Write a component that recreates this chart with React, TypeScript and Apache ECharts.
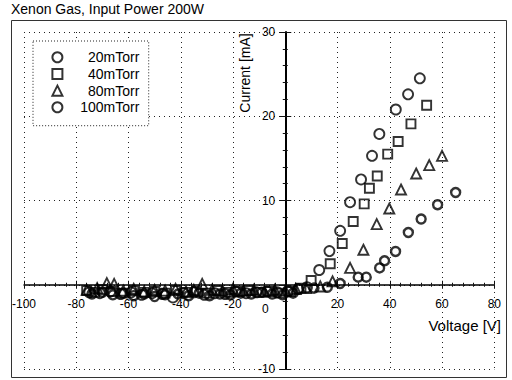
import React, { useEffect, useRef } from 'react';
import * as echarts from 'echarts';

const titleText = 'Xenon Gas, Input Power 200W';
const xName = 'Voltage [V]';
const yName = 'Current [mA]';
const seriesNames = ['20mTorr', '40mTorr', '80mTorr', '100mTorr'];

const p20: number[][] = [
  [-75, -0.9], [-71, -1.0], [-67, -0.8], [-63, -1.1], [-59, -0.9], [-55, -1.2], [-51, -1.0], [-47, -1.1],
  [-43, -1.5], [-39, -1.0], [-35, -0.9], [-31, -1.2], [-27, -1.0], [-23, -1.1], [-19, -0.8], [-15, -1.0],
  [-11, -0.9], [-7, -0.8], [-3, -0.9], [1, -0.8], [5, -0.5], [8.3, -0.3],
  [13.0, 1.75], [16.9, 4.0], [21.0, 6.4], [24.8, 9.8], [29.0, 12.5], [33.2, 15.3], [36.0, 17.9],
  [42.3, 20.8], [47.0, 22.6], [51.5, 24.5],
];

const p40: number[][] = [
  [-76, -0.7], [-73, -0.9], [-70, -0.6], [-66, -0.8], [-62, -1.0], [-58, -0.7], [-54, -0.9], [-50, -0.8],
  [-46, -1.0], [-42, -0.7], [-38, -0.9], [-34, -0.8], [-30, -1.0], [-26, -0.7], [-22, -0.9], [-18, -0.8],
  [-14, -0.7], [-10, -0.9], [-6, -0.8], [-2, -1.0], [2, -0.8], [6, -0.4],
  [9.9, 0.5], [17.2, 2.5], [21.8, 4.9], [26.0, 7.5], [30.2, 9.6], [32.2, 11.45], [35.2, 12.9],
  [39.2, 15.5], [43.2, 17.0], [48.1, 19.1], [54.1, 21.3],
];

const p80: number[][] = [
  [-76, -0.6], [-72, -0.4], [-68.3, 0.2], [-65.5, 0.1], [-62, -0.7], [-58, -0.5], [-54, -0.8], [-50, -0.6],
  [-46, -0.7], [-42, -0.5], [-38, -0.8], [-35, -0.6], [-31.8, 0.1], [-28, -0.6], [-24, -0.7], [-20, -0.5],
  [-16, -0.7], [-12, -0.6], [-8, -0.8], [-4, -0.6], [0, -0.7], [4, -0.5], [8, -0.4], [13.4, -0.2],
  [18.1, 0.4], [24.8, 2.0], [29.9, 4.15], [35.0, 7.2], [39.8, 9.05], [44.3, 11.3], [50.1, 13.2],
  [55.1, 14.2], [60.0, 15.3],
];

const p100: number[][] = [
  [-74, -1.1], [-70, -0.9], [-66, -1.2], [-62, -1.0], [-58, -1.3], [-54, -1.1], [-50, -1.4], [-46, -1.2],
  [-41, -1.1], [-37, -1.3], [-33, -1.0], [-29, -1.3], [-25, -1.1], [-21, -1.2], [-17, -1.0], [-13, -1.1],
  [-9, -0.9], [-5, -1.1], [-1, -1.2], [3, -1.0], [11, -0.4],
  [16.1, -0.3], [21.0, 0.15], [27.9, 0.9], [31.0, 0.9], [36.1, 2.0], [38.0, 2.85], [42.2, 3.95],
  [47.1, 6.2], [52.0, 7.8], [58.3, 9.5], [65.2, 10.95],
];

const FONT = '"Liberation Sans", Arial, sans-serif';

// grid geometry (pixels)
const G_LEFT = 24;
const G_RIGHT = 17.7;
const G_TOP = 32;
const G_BOTTOM = 11;
const X_MIN = -100;
const X_MAX = 80;
const Y_MIN = -10;
const Y_MAX = 30;

export default function App() {
  const ref = useRef<HTMLDivElement>(null);
  useEffect(() => {
    const chart = echarts.init(ref.current!, null, { renderer: 'svg' });
    const W = 512;
    const H = 380;
    const gw = W - G_LEFT - G_RIGHT;
    const gh = H - G_TOP - G_BOTTOM;
    // distance from grid edge to the zero line, so labels can follow the zero-crossing axes
    const zeroFromLeft = ((0 - X_MIN) / (X_MAX - X_MIN)) * gw;
    const zeroFromBottom = ((0 - Y_MIN) / (Y_MAX - Y_MIN)) * gh;

    const ms = (bw: number) => ({ color: 'rgba(0,0,0,0)', borderColor: '#000', borderWidth: bw });
    const gridLine = { show: true, lineStyle: { color: '#222', type: [1, 4], width: 1 } };
    const tickStyle = { color: '#111', width: 1 };
    chart.setOption({
      animation: false,
      backgroundColor: '#fff',
      textStyle: { fontFamily: FONT },
      title: {
        text: titleText,
        left: 11,
        top: 2,
        padding: 0,
        textStyle: { fontSize: 14, fontWeight: 'normal', fontFamily: FONT, color: '#000' },
      },
      grid: { left: G_LEFT, right: G_RIGHT, top: G_TOP, bottom: G_BOTTOM, containLabel: false, outerBoundsMode: 'none' },
      legend: {
        data: seriesNames,
        orient: 'vertical',
        left: 33,
        top: 41,
        padding: [9.3, 9.3, 11.4, 18.4],
        itemWidth: 10,
        itemHeight: 10,
        itemGap: 2.67,
        selectedMode: false,
        backgroundColor: '#fff',
        borderColor: '#222',
        borderWidth: 1,
        borderType: [1, 2],
        formatter: (n: string) => `{t|${n}}`,
        textStyle: {
          fontSize: 14,
          lineHeight: 14,
          fontFamily: FONT,
          color: '#000',
          rich: { t: { width: 72, align: 'right', fontSize: 14, lineHeight: 14, fontFamily: FONT, color: '#000' } },
        },
      },
      xAxis: [
        {
          type: 'value', min: X_MIN, max: X_MAX, interval: 20,
          axisLine: { onZero: true, lineStyle: { color: '#000', width: 1.5 } },
          axisTick: { show: true, length: 4, lineStyle: tickStyle },
          minorTick: { show: true, splitNumber: 5, length: 2, lineStyle: tickStyle },
          axisLabel: {
            margin: 13 - zeroFromBottom, fontSize: 12, color: '#000', fontFamily: FONT,
            formatter: (v: number) => (v === 0 ? '{z|0}' : String(v)),
            rich: { z: { padding: [5, 40, 0, 0], fontSize: 12, fontFamily: FONT, color: '#000' } },
          },
          splitLine: gridLine,
          minorSplitLine: { show: false },
        },
        {
          type: 'value', min: X_MIN, max: X_MAX, interval: 20, position: 'top',
          axisLine: { show: false, onZero: true, onZeroAxisIndex: 0 },
          axisTick: { show: true, length: 4, lineStyle: tickStyle },
          minorTick: { show: true, splitNumber: 5, length: 2, lineStyle: tickStyle },
          axisLabel: { show: false },
          splitLine: { show: false },
        },
      ],
      yAxis: [
        {
          type: 'value', min: Y_MIN, max: Y_MAX, interval: 10, position: 'left',
          axisLine: { onZero: true, lineStyle: { color: '#000', width: 2 } },
          axisTick: { show: true, length: 6, lineStyle: tickStyle },
          minorTick: { show: true, splitNumber: 5, length: 2.5, lineStyle: tickStyle },
          axisLabel: {
            margin: 10 - zeroFromLeft, fontSize: 12, color: '#000', fontFamily: FONT,
            formatter: (v: number) => (v === 0 ? '' : String(v)),
          },
          splitLine: gridLine,
          minorSplitLine: { show: false },
        },
        {
          type: 'value', min: Y_MIN, max: Y_MAX, interval: 10, position: 'right',
          axisLine: { show: false, onZero: true, onZeroAxisIndex: 0 },
          axisTick: { show: true, length: 6, lineStyle: tickStyle },
          minorTick: { show: true, splitNumber: 5, length: 2.5, lineStyle: tickStyle },
          axisLabel: { show: false },
          splitLine: { show: false },
        },
      ],
      series: [
        { name: seriesNames[0], type: 'scatter', data: p20, symbol: 'circle', symbolSize: 10, itemStyle: ms(1.9) },
        { name: seriesNames[1], type: 'scatter', data: p40, symbol: 'rect', symbolSize: 9, itemStyle: ms(1.9) },
        { name: seriesNames[2], type: 'scatter', data: p80, symbol: 'triangle', symbolSize: 10, itemStyle: ms(1.9) },
        { name: seriesNames[3], type: 'scatter', data: p100, symbol: 'circle', symbolSize: 9, itemStyle: ms(2.4) },
      ],
      graphic: [
        {
          type: 'rect', silent: true, z: -10,
          shape: { x: 11.5, y: 20.5, width: 495, height: 357 },
          style: { fill: 'none', stroke: '#333', lineWidth: 1 },
        },
        {
          type: 'text', x: 245, y: 73, rotation: Math.PI / 2,
          style: {
            text: yName, fontSize: 14, fontFamily: FONT, fill: '#000',
            align: 'center', verticalAlign: 'middle', textAlign: 'center', textVerticalAlign: 'middle',
          },
        },
        {
          type: 'text', x: 501, y: 325,
          style: {
            text: xName, fontSize: 15, fontFamily: FONT, fill: '#000',
            align: 'right', verticalAlign: 'middle', textAlign: 'right', textVerticalAlign: 'middle',
          },
        },
      ],
    });
    return () => chart.dispose();
  }, []);
  return (
    <div
      ref={ref}
      style={{ position: 'fixed', left: 0, top: 0, width: 512, height: 380, background: '#fff' }}
    />
  );
}
